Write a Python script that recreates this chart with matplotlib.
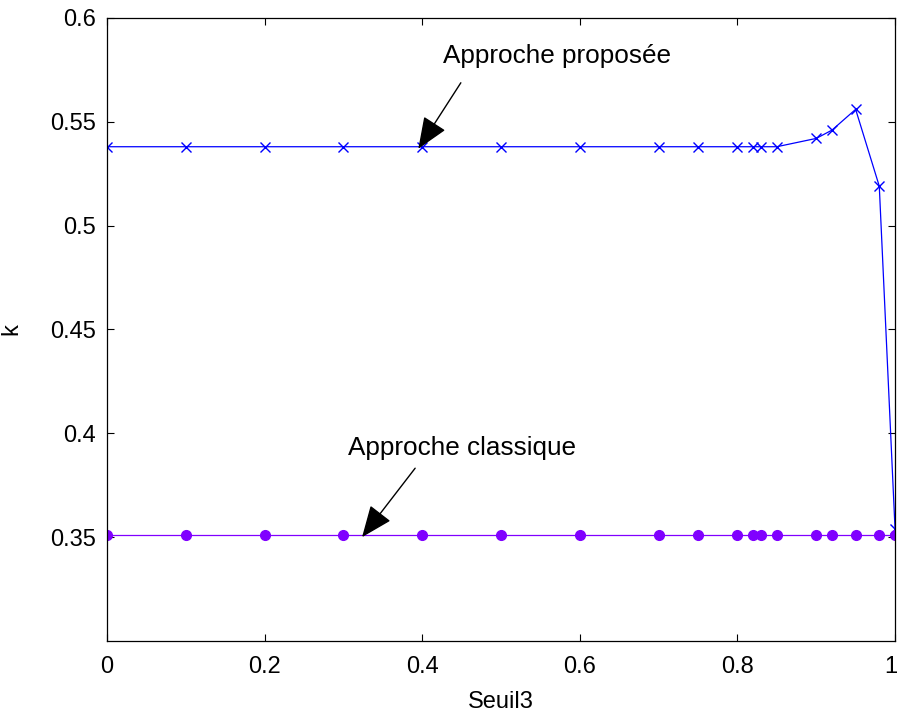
import numpy as np
import matplotlib
matplotlib.use('Agg')
import matplotlib.pyplot as plt
import matplotlib.transforms as mtransforms

plt.rcParams['font.family'] = ['Liberation Sans', 'DejaVu Sans']

# seuil values (x axis)
seuil = [0, 0.1, 0.2, 0.3, 0.4, 0.5, 0.6, 0.7, 0.75, 0.8, 0.82, 0.83, 0.85,
         0.9, 0.92, 0.95, 0.98, 1.0]
# k for the proposed approach
k_proposee = [0.538, 0.538, 0.538, 0.538, 0.538, 0.538, 0.538, 0.538, 0.538,
              0.538, 0.538, 0.538, 0.538, 0.542, 0.546, 0.556, 0.519, 0.354]
# k for the classical approach
k_classique = [0.351] * len(seuil)

fig = plt.figure(figsize=(8.98, 7.13), dpi=100)
ax = fig.add_axes([0.1192, 0.101, 0.8775, 0.8738])

ax.plot(seuil, k_proposee, color='#0000ff', lw=0.9, marker='x', ms=7.5, mew=1.0)
ax.plot(seuil, k_classique, color='#8000ff', lw=0.9, marker='o', ms=7, mec='#8000ff')

ax.set_xlim(0, 1)
ax.set_ylim(0.3, 0.6)
ax.set_xticks([0, 0.2, 0.4, 0.6, 0.8, 1])
ax.set_xticklabels(['0', '0.2', '0.4', '0.6', '0.8', '1'])
ax.set_yticks([0.35, 0.4, 0.45, 0.5, 0.55, 0.6])
ax.set_yticklabels(['0.35', '0.4', '0.45', '0.5', '0.55', '0.6'])
ax.tick_params(direction='in', top=True, right=True, length=5, width=0.8,
               labelsize=17, pad=8)
ax.tick_params(axis='x', pad=11)
for s in ax.spines.values():
    s.set_linewidth(0.9)

# keep the "1" inside the picture
lab = ax.get_xticklabels()[-1]
lab.set_transform(lab.get_transform() + mtransforms.ScaledTranslation(-4 / 100, 0, fig.dpi_scale_trans))

ax.set_xlabel('Seuil3', fontsize=17, labelpad=9)
ax.set_ylabel('k', fontsize=17, labelpad=20)

arrow = dict(arrowstyle='-|>,head_length=1.1,head_width=0.45', color='black',
             lw=1.0, mutation_scale=18, shrinkA=0, shrinkB=0)
ax.annotate('', xy=(0.395, 0.537), xytext=(0.449, 0.5688), arrowprops=arrow)
ax.text(0.426, 0.5817, 'Approche proposée', fontsize=18.8, va='center', ha='left')
ax.annotate('', xy=(0.3236, 0.350), xytext=(0.391, 0.3832), arrowprops=arrow)
ax.text(0.306, 0.3928, 'Approche classique', fontsize=18.8, va='center', ha='left')

fig.savefig('out.png', dpi=100)
